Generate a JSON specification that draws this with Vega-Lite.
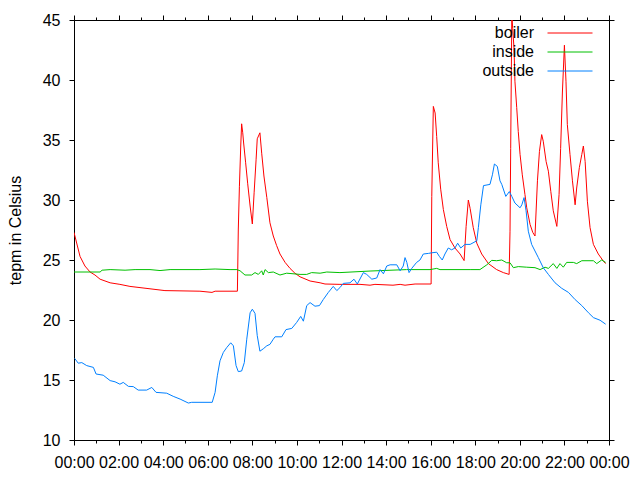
{
  "$schema": "https://vega.github.io/schema/vega-lite/v6.json",
  "width": 535,
  "height": 420,
  "autosize": "none",
  "padding": {"left": 74, "top": 20, "right": 31, "bottom": 40},
  "background": "white",
  "config": {
    "view": {"stroke": null},
    "font": "Liberation Sans",
    "axis": {
      "grid": false,
      "ticks": true,
      "zindex": 1,
      "domainColor": "black",
      "domainWidth": 1,
      "tickColor": "black",
      "tickWidth": 1,
      "tickOpacity": 1,
      "labelColor": "black",
      "labelFont": "Liberation Sans",
      "labelFontSize": 16,
      "titleFont": "Liberation Sans",
      "titleFontSize": 16,
      "titleFontWeight": "normal",
      "titleColor": "black",
      "labelFlush": false,
      "labelOverlap": false,
      "labelBound": false
    }
  },
  "data": {
    "values": [
      {"s": "boiler", "h": 0.00, "v": 27.3},
      {"s": "boiler", "h": 0.27, "v": 25.3},
      {"s": "boiler", "h": 0.49, "v": 24.5},
      {"s": "boiler", "h": 0.72, "v": 24.0},
      {"s": "boiler", "h": 0.94, "v": 23.75},
      {"s": "boiler", "h": 1.17, "v": 23.4},
      {"s": "boiler", "h": 1.62, "v": 23.1},
      {"s": "boiler", "h": 2.06, "v": 22.97},
      {"s": "boiler", "h": 2.51, "v": 22.8},
      {"s": "boiler", "h": 3.41, "v": 22.6},
      {"s": "boiler", "h": 4.08, "v": 22.45},
      {"s": "boiler", "h": 5.65, "v": 22.4},
      {"s": "boiler", "h": 6.19, "v": 22.3},
      {"s": "boiler", "h": 6.33, "v": 22.4},
      {"s": "boiler", "h": 7.33, "v": 22.4},
      {"s": "boiler", "h": 7.37, "v": 27.5},
      {"s": "boiler", "h": 7.42, "v": 31.1},
      {"s": "boiler", "h": 7.48, "v": 34.5},
      {"s": "boiler", "h": 7.52, "v": 36.35},
      {"s": "boiler", "h": 7.57, "v": 35.6},
      {"s": "boiler", "h": 7.61, "v": 34.75},
      {"s": "boiler", "h": 7.70, "v": 33.1},
      {"s": "boiler", "h": 7.79, "v": 31.4},
      {"s": "boiler", "h": 7.90, "v": 29.5},
      {"s": "boiler", "h": 8.00, "v": 28.0},
      {"s": "boiler", "h": 8.08, "v": 30.6},
      {"s": "boiler", "h": 8.17, "v": 33.4},
      {"s": "boiler", "h": 8.22, "v": 35.1},
      {"s": "boiler", "h": 8.34, "v": 35.6},
      {"s": "boiler", "h": 8.42, "v": 33.9},
      {"s": "boiler", "h": 8.52, "v": 32.0},
      {"s": "boiler", "h": 8.65, "v": 30.2},
      {"s": "boiler", "h": 8.79, "v": 28.1},
      {"s": "boiler", "h": 8.94, "v": 27.0},
      {"s": "boiler", "h": 9.09, "v": 26.2},
      {"s": "boiler", "h": 9.24, "v": 25.5},
      {"s": "boiler", "h": 9.47, "v": 24.8},
      {"s": "boiler", "h": 9.69, "v": 24.3},
      {"s": "boiler", "h": 9.91, "v": 23.9},
      {"s": "boiler", "h": 10.14, "v": 23.6},
      {"s": "boiler", "h": 10.59, "v": 23.25},
      {"s": "boiler", "h": 11.04, "v": 23.1},
      {"s": "boiler", "h": 11.26, "v": 23.0},
      {"s": "boiler", "h": 11.93, "v": 22.97},
      {"s": "boiler", "h": 12.83, "v": 22.97},
      {"s": "boiler", "h": 13.28, "v": 22.9},
      {"s": "boiler", "h": 13.50, "v": 22.97},
      {"s": "boiler", "h": 14.31, "v": 22.9},
      {"s": "boiler", "h": 14.63, "v": 22.97},
      {"s": "boiler", "h": 14.85, "v": 22.9},
      {"s": "boiler", "h": 15.30, "v": 23.0},
      {"s": "boiler", "h": 16.02, "v": 23.0},
      {"s": "boiler", "h": 16.05, "v": 30.3},
      {"s": "boiler", "h": 16.12, "v": 37.8},
      {"s": "boiler", "h": 16.20, "v": 37.25},
      {"s": "boiler", "h": 16.27, "v": 35.3},
      {"s": "boiler", "h": 16.34, "v": 33.1},
      {"s": "boiler", "h": 16.45, "v": 30.9},
      {"s": "boiler", "h": 16.57, "v": 29.2},
      {"s": "boiler", "h": 16.72, "v": 27.8},
      {"s": "boiler", "h": 16.87, "v": 26.7},
      {"s": "boiler", "h": 17.09, "v": 26.0},
      {"s": "boiler", "h": 17.32, "v": 25.5},
      {"s": "boiler", "h": 17.50, "v": 24.95},
      {"s": "boiler", "h": 17.59, "v": 27.8},
      {"s": "boiler", "h": 17.69, "v": 30.0},
      {"s": "boiler", "h": 17.77, "v": 29.3},
      {"s": "boiler", "h": 17.91, "v": 27.7},
      {"s": "boiler", "h": 18.07, "v": 26.4},
      {"s": "boiler", "h": 18.29, "v": 25.5},
      {"s": "boiler", "h": 18.59, "v": 24.7},
      {"s": "boiler", "h": 18.96, "v": 24.2},
      {"s": "boiler", "h": 19.26, "v": 23.95},
      {"s": "boiler", "h": 19.52, "v": 23.8},
      {"s": "boiler", "h": 19.56, "v": 27.4},
      {"s": "boiler", "h": 19.59, "v": 34.3},
      {"s": "boiler", "h": 19.64, "v": 45.5},
      {"s": "boiler", "h": 19.68, "v": 44.3},
      {"s": "boiler", "h": 19.74, "v": 42.6},
      {"s": "boiler", "h": 19.78, "v": 39.9},
      {"s": "boiler", "h": 19.86, "v": 37.7},
      {"s": "boiler", "h": 19.93, "v": 35.7},
      {"s": "boiler", "h": 20.01, "v": 33.8},
      {"s": "boiler", "h": 20.11, "v": 32.1},
      {"s": "boiler", "h": 20.23, "v": 30.45},
      {"s": "boiler", "h": 20.31, "v": 29.35},
      {"s": "boiler", "h": 20.46, "v": 27.96},
      {"s": "boiler", "h": 20.58, "v": 27.3},
      {"s": "boiler", "h": 20.68, "v": 27.0},
      {"s": "boiler", "h": 20.79, "v": 31.6},
      {"s": "boiler", "h": 20.88, "v": 34.05},
      {"s": "boiler", "h": 20.98, "v": 35.45},
      {"s": "boiler", "h": 21.05, "v": 34.9},
      {"s": "boiler", "h": 21.18, "v": 33.2},
      {"s": "boiler", "h": 21.28, "v": 32.4},
      {"s": "boiler", "h": 21.39, "v": 30.7},
      {"s": "boiler", "h": 21.50, "v": 29.1},
      {"s": "boiler", "h": 21.66, "v": 27.8},
      {"s": "boiler", "h": 21.76, "v": 30.45},
      {"s": "boiler", "h": 21.83, "v": 34.3},
      {"s": "boiler", "h": 21.91, "v": 39.0},
      {"s": "boiler", "h": 22.00, "v": 42.9},
      {"s": "boiler", "h": 22.07, "v": 39.9},
      {"s": "boiler", "h": 22.13, "v": 36.3},
      {"s": "boiler", "h": 22.25, "v": 33.8},
      {"s": "boiler", "h": 22.36, "v": 31.6},
      {"s": "boiler", "h": 22.48, "v": 29.6},
      {"s": "boiler", "h": 22.55, "v": 31.0},
      {"s": "boiler", "h": 22.67, "v": 32.7},
      {"s": "boiler", "h": 22.78, "v": 33.8},
      {"s": "boiler", "h": 22.85, "v": 34.5},
      {"s": "boiler", "h": 22.93, "v": 33.2},
      {"s": "boiler", "h": 23.03, "v": 29.9},
      {"s": "boiler", "h": 23.15, "v": 27.7},
      {"s": "boiler", "h": 23.30, "v": 26.3},
      {"s": "boiler", "h": 23.52, "v": 25.5},
      {"s": "boiler", "h": 23.75, "v": 24.9},
      {"s": "boiler", "h": 23.85, "v": 24.7},

      {"s": "inside", "h": 0.00, "v": 24.0},
      {"s": "inside", "h": 1.17, "v": 24.0},
      {"s": "inside", "h": 1.26, "v": 24.15},
      {"s": "inside", "h": 1.62, "v": 24.2},
      {"s": "inside", "h": 2.29, "v": 24.15},
      {"s": "inside", "h": 2.74, "v": 24.2},
      {"s": "inside", "h": 3.41, "v": 24.2},
      {"s": "inside", "h": 3.86, "v": 24.12},
      {"s": "inside", "h": 4.31, "v": 24.2},
      {"s": "inside", "h": 5.65, "v": 24.2},
      {"s": "inside", "h": 6.33, "v": 24.25},
      {"s": "inside", "h": 7.00, "v": 24.2},
      {"s": "inside", "h": 7.31, "v": 24.2},
      {"s": "inside", "h": 7.45, "v": 24.1},
      {"s": "inside", "h": 7.67, "v": 23.75},
      {"s": "inside", "h": 7.97, "v": 23.75},
      {"s": "inside", "h": 8.12, "v": 23.95},
      {"s": "inside", "h": 8.27, "v": 23.8},
      {"s": "inside", "h": 8.42, "v": 24.1},
      {"s": "inside", "h": 8.49, "v": 23.75},
      {"s": "inside", "h": 8.57, "v": 24.2},
      {"s": "inside", "h": 8.72, "v": 23.95},
      {"s": "inside", "h": 8.94, "v": 24.0},
      {"s": "inside", "h": 9.24, "v": 23.75},
      {"s": "inside", "h": 9.54, "v": 23.9},
      {"s": "inside", "h": 10.14, "v": 23.8},
      {"s": "inside", "h": 10.44, "v": 23.8},
      {"s": "inside", "h": 10.66, "v": 23.95},
      {"s": "inside", "h": 11.04, "v": 23.9},
      {"s": "inside", "h": 11.34, "v": 24.0},
      {"s": "inside", "h": 11.93, "v": 23.95},
      {"s": "inside", "h": 13.28, "v": 24.08},
      {"s": "inside", "h": 14.92, "v": 24.2},
      {"s": "inside", "h": 15.97, "v": 24.2},
      {"s": "inside", "h": 16.27, "v": 24.3},
      {"s": "inside", "h": 16.42, "v": 24.2},
      {"s": "inside", "h": 17.77, "v": 24.2},
      {"s": "inside", "h": 18.21, "v": 24.2},
      {"s": "inside", "h": 18.52, "v": 24.6},
      {"s": "inside", "h": 18.74, "v": 24.97},
      {"s": "inside", "h": 18.96, "v": 24.94},
      {"s": "inside", "h": 19.19, "v": 25.0},
      {"s": "inside", "h": 19.41, "v": 24.77},
      {"s": "inside", "h": 19.56, "v": 24.77},
      {"s": "inside", "h": 19.71, "v": 24.36},
      {"s": "inside", "h": 19.93, "v": 24.45},
      {"s": "inside", "h": 20.31, "v": 24.4},
      {"s": "inside", "h": 20.68, "v": 24.36},
      {"s": "inside", "h": 20.91, "v": 24.2},
      {"s": "inside", "h": 21.13, "v": 24.4},
      {"s": "inside", "h": 21.28, "v": 24.3},
      {"s": "inside", "h": 21.50, "v": 24.7},
      {"s": "inside", "h": 21.66, "v": 24.3},
      {"s": "inside", "h": 21.80, "v": 24.7},
      {"s": "inside", "h": 21.95, "v": 24.4},
      {"s": "inside", "h": 22.10, "v": 24.8},
      {"s": "inside", "h": 22.40, "v": 24.8},
      {"s": "inside", "h": 22.55, "v": 24.7},
      {"s": "inside", "h": 22.78, "v": 24.94},
      {"s": "inside", "h": 23.30, "v": 24.94},
      {"s": "inside", "h": 23.45, "v": 24.7},
      {"s": "inside", "h": 23.67, "v": 25.0},
      {"s": "inside", "h": 23.85, "v": 24.8},

      {"s": "outside", "h": 0.03, "v": 16.8},
      {"s": "outside", "h": 0.19, "v": 16.4},
      {"s": "outside", "h": 0.35, "v": 16.45},
      {"s": "outside", "h": 0.57, "v": 16.2},
      {"s": "outside", "h": 0.87, "v": 16.05},
      {"s": "outside", "h": 0.99, "v": 15.5},
      {"s": "outside", "h": 1.31, "v": 15.4},
      {"s": "outside", "h": 1.62, "v": 14.95},
      {"s": "outside", "h": 1.84, "v": 14.85},
      {"s": "outside", "h": 2.06, "v": 14.65},
      {"s": "outside", "h": 2.21, "v": 14.8},
      {"s": "outside", "h": 2.44, "v": 14.47},
      {"s": "outside", "h": 2.66, "v": 14.45},
      {"s": "outside", "h": 2.88, "v": 14.16},
      {"s": "outside", "h": 3.26, "v": 14.16},
      {"s": "outside", "h": 3.49, "v": 14.38},
      {"s": "outside", "h": 3.68, "v": 13.97},
      {"s": "outside", "h": 4.16, "v": 13.9},
      {"s": "outside", "h": 4.45, "v": 13.64},
      {"s": "outside", "h": 4.76, "v": 13.41},
      {"s": "outside", "h": 5.13, "v": 13.08},
      {"s": "outside", "h": 5.28, "v": 13.14},
      {"s": "outside", "h": 6.20, "v": 13.14},
      {"s": "outside", "h": 6.33, "v": 13.97},
      {"s": "outside", "h": 6.43, "v": 15.35},
      {"s": "outside", "h": 6.55, "v": 16.6},
      {"s": "outside", "h": 6.70, "v": 17.3},
      {"s": "outside", "h": 6.85, "v": 17.7},
      {"s": "outside", "h": 7.03, "v": 18.1},
      {"s": "outside", "h": 7.15, "v": 17.85},
      {"s": "outside", "h": 7.27, "v": 16.2},
      {"s": "outside", "h": 7.37, "v": 15.7},
      {"s": "outside", "h": 7.52, "v": 15.75},
      {"s": "outside", "h": 7.64, "v": 16.45},
      {"s": "outside", "h": 7.75, "v": 18.4},
      {"s": "outside", "h": 7.90, "v": 20.6},
      {"s": "outside", "h": 8.00, "v": 20.9},
      {"s": "outside", "h": 8.12, "v": 20.55},
      {"s": "outside", "h": 8.22, "v": 18.7},
      {"s": "outside", "h": 8.34, "v": 17.4},
      {"s": "outside", "h": 8.49, "v": 17.6},
      {"s": "outside", "h": 8.65, "v": 17.85},
      {"s": "outside", "h": 8.79, "v": 17.97},
      {"s": "outside", "h": 8.94, "v": 18.4},
      {"s": "outside", "h": 9.02, "v": 18.6},
      {"s": "outside", "h": 9.32, "v": 18.6},
      {"s": "outside", "h": 9.51, "v": 19.2},
      {"s": "outside", "h": 9.77, "v": 19.3},
      {"s": "outside", "h": 9.99, "v": 19.8},
      {"s": "outside", "h": 10.17, "v": 20.3},
      {"s": "outside", "h": 10.29, "v": 19.9},
      {"s": "outside", "h": 10.44, "v": 21.2},
      {"s": "outside", "h": 10.59, "v": 21.45},
      {"s": "outside", "h": 10.81, "v": 21.15},
      {"s": "outside", "h": 11.01, "v": 21.2},
      {"s": "outside", "h": 11.18, "v": 21.7},
      {"s": "outside", "h": 11.41, "v": 22.3},
      {"s": "outside", "h": 11.63, "v": 22.8},
      {"s": "outside", "h": 11.79, "v": 22.45},
      {"s": "outside", "h": 11.93, "v": 22.7},
      {"s": "outside", "h": 12.08, "v": 23.05},
      {"s": "outside", "h": 12.38, "v": 23.1},
      {"s": "outside", "h": 12.56, "v": 23.4},
      {"s": "outside", "h": 12.71, "v": 23.0},
      {"s": "outside", "h": 12.98, "v": 23.95},
      {"s": "outside", "h": 13.13, "v": 23.8},
      {"s": "outside", "h": 13.36, "v": 23.4},
      {"s": "outside", "h": 13.58, "v": 23.5},
      {"s": "outside", "h": 13.73, "v": 24.2},
      {"s": "outside", "h": 13.88, "v": 23.85},
      {"s": "outside", "h": 14.03, "v": 24.5},
      {"s": "outside", "h": 14.18, "v": 24.6},
      {"s": "outside", "h": 14.48, "v": 24.6},
      {"s": "outside", "h": 14.63, "v": 24.1},
      {"s": "outside", "h": 14.77, "v": 24.5},
      {"s": "outside", "h": 14.85, "v": 25.2},
      {"s": "outside", "h": 14.93, "v": 24.8},
      {"s": "outside", "h": 15.03, "v": 23.95},
      {"s": "outside", "h": 15.15, "v": 24.3},
      {"s": "outside", "h": 15.37, "v": 24.8},
      {"s": "outside", "h": 15.52, "v": 25.0},
      {"s": "outside", "h": 15.67, "v": 25.5},
      {"s": "outside", "h": 15.90, "v": 25.55},
      {"s": "outside", "h": 16.05, "v": 25.6},
      {"s": "outside", "h": 16.27, "v": 25.65},
      {"s": "outside", "h": 16.39, "v": 25.3},
      {"s": "outside", "h": 16.52, "v": 25.0},
      {"s": "outside", "h": 16.64, "v": 25.5},
      {"s": "outside", "h": 16.79, "v": 26.0},
      {"s": "outside", "h": 16.94, "v": 25.85},
      {"s": "outside", "h": 17.09, "v": 26.0},
      {"s": "outside", "h": 17.21, "v": 26.4},
      {"s": "outside", "h": 17.35, "v": 26.0},
      {"s": "outside", "h": 17.54, "v": 26.3},
      {"s": "outside", "h": 17.77, "v": 26.3},
      {"s": "outside", "h": 18.07, "v": 26.6},
      {"s": "outside", "h": 18.14, "v": 27.7},
      {"s": "outside", "h": 18.25, "v": 29.6},
      {"s": "outside", "h": 18.37, "v": 31.2},
      {"s": "outside", "h": 18.66, "v": 31.3},
      {"s": "outside", "h": 18.77, "v": 32.1},
      {"s": "outside", "h": 18.86, "v": 33.0},
      {"s": "outside", "h": 18.99, "v": 32.8},
      {"s": "outside", "h": 19.11, "v": 31.6},
      {"s": "outside", "h": 19.19, "v": 31.3},
      {"s": "outside", "h": 19.37, "v": 30.3},
      {"s": "outside", "h": 19.53, "v": 30.7},
      {"s": "outside", "h": 19.64, "v": 30.3},
      {"s": "outside", "h": 19.78, "v": 29.75},
      {"s": "outside", "h": 20.01, "v": 29.35},
      {"s": "outside", "h": 20.09, "v": 29.6},
      {"s": "outside", "h": 20.19, "v": 30.2},
      {"s": "outside", "h": 20.28, "v": 29.1},
      {"s": "outside", "h": 20.38, "v": 27.4},
      {"s": "outside", "h": 20.53, "v": 26.3},
      {"s": "outside", "h": 20.68, "v": 25.75},
      {"s": "outside", "h": 20.83, "v": 25.2},
      {"s": "outside", "h": 21.05, "v": 24.36},
      {"s": "outside", "h": 21.28, "v": 23.8},
      {"s": "outside", "h": 21.58, "v": 23.1},
      {"s": "outside", "h": 21.88, "v": 22.64},
      {"s": "outside", "h": 22.18, "v": 22.3},
      {"s": "outside", "h": 22.48, "v": 21.7},
      {"s": "outside", "h": 22.78, "v": 21.2},
      {"s": "outside", "h": 23.08, "v": 20.6},
      {"s": "outside", "h": 23.30, "v": 20.2},
      {"s": "outside", "h": 23.60, "v": 19.98},
      {"s": "outside", "h": 23.85, "v": 19.65}
    ]
  },
  "layer": [
    {
      "mark": {"type": "line", "strokeWidth": 1, "clip": true},
      "encoding": {
        "x": {
          "field": "h", "type": "quantitative",
          "scale": {"domain": [0, 24], "nice": false, "zero": false},
          "axis": {
            "orient": "bottom", "title": null,
            "values": [0, 2, 4, 6, 8, 10, 12, 14, 16, 18, 20, 22, 24],
            "labelExpr": "(datum.value % 24 < 10 ? '0' : '') + (datum.value % 24) + ':00'",
            "tickSize": 5, "labelPadding": 9, "domain": true,
            "encode": {"ticks": {"update": {"y2": {"value": -5}}}}
          }
        },
        "y": {
          "field": "v", "type": "quantitative",
          "scale": {"domain": [10, 45], "nice": false, "zero": false},
          "axis": {
            "orient": "left", "title": "tepm in Celsius",
            "values": [10, 15, 20, 25, 30, 35, 40, 45],
            "tickSize": 5, "labelPadding": 9, "domain": true,
            "encode": {"ticks": {"update": {"x2": {"value": 5}}}},
            "titleX": -59, "titleY": 210, "titleAngle": -90,
            "titleAlign": "center", "titleBaseline": "middle"
          }
        },
        "color": {
          "field": "s", "type": "nominal",
          "scale": {"domain": ["boiler", "inside", "outside"], "range": ["#ff0000", "#00c000", "#0080ff"]},
          "legend": {
            "title": null, "orient": "none", "legendX": 488, "legendY": 5,
            "symbolType": "M-5,0L5,0", "symbolSize": 81, "symbolStrokeWidth": 1,
            "labelAlign": "right", "labelOffset": -44, "labelFontSize": 16,
            "labelColor": "black", "labelFont": "Liberation Sans",
            "rowPadding": 3, "padding": 0
          }
        }
      }
    },
    {
      "mark": {"type": "point", "opacity": 0},
      "encoding": {
        "x": {
          "field": "h", "type": "quantitative",
          "axis": {
            "orient": "bottom", "title": null, "labels": false, "domain": false,
            "values": [0, 1, 2, 3, 4, 5, 6, 7, 8, 9, 10, 11, 12, 13, 14, 15, 16, 17, 18, 19, 20, 21, 22, 23, 24],
            "tickSize": 3,
            "encode": {"ticks": {"update": {"y2": {"value": -3}}}}
          }
        },
        "y": {
          "field": "v", "type": "quantitative",
          "axis": {
            "orient": "right", "title": null, "labels": false, "domain": true,
            "values": [10, 15, 20, 25, 30, 35, 40, 45],
            "tickSize": 5,
            "encode": {"ticks": {"update": {"x2": {"value": -5}}}}
          }
        }
      }
    },
    {
      "mark": {"type": "point", "opacity": 0},
      "encoding": {
        "x": {
          "field": "h", "type": "quantitative",
          "axis": {
            "orient": "top", "title": null, "labels": false, "domain": true,
            "values": [0, 2, 4, 6, 8, 10, 12, 14, 16, 18, 20, 22, 24],
            "tickSize": 5,
            "encode": {"ticks": {"update": {"y2": {"value": 5}}}}
          }
        },
        "y": {"field": "v", "type": "quantitative", "axis": null}
      }
    },
    {
      "mark": {"type": "point", "opacity": 0},
      "encoding": {
        "x": {
          "field": "h", "type": "quantitative",
          "axis": {
            "orient": "top", "title": null, "labels": false, "domain": false,
            "values": [0, 1, 2, 3, 4, 5, 6, 7, 8, 9, 10, 11, 12, 13, 14, 15, 16, 17, 18, 19, 20, 21, 22, 23, 24],
            "tickSize": 3,
            "encode": {"ticks": {"update": {"y2": {"value": 3}}}}
          }
        },
        "y": {"field": "v", "type": "quantitative", "axis": null}
      }
    }
  ],
  "resolve": {"axis": {"x": "independent", "y": "independent"}}
}
